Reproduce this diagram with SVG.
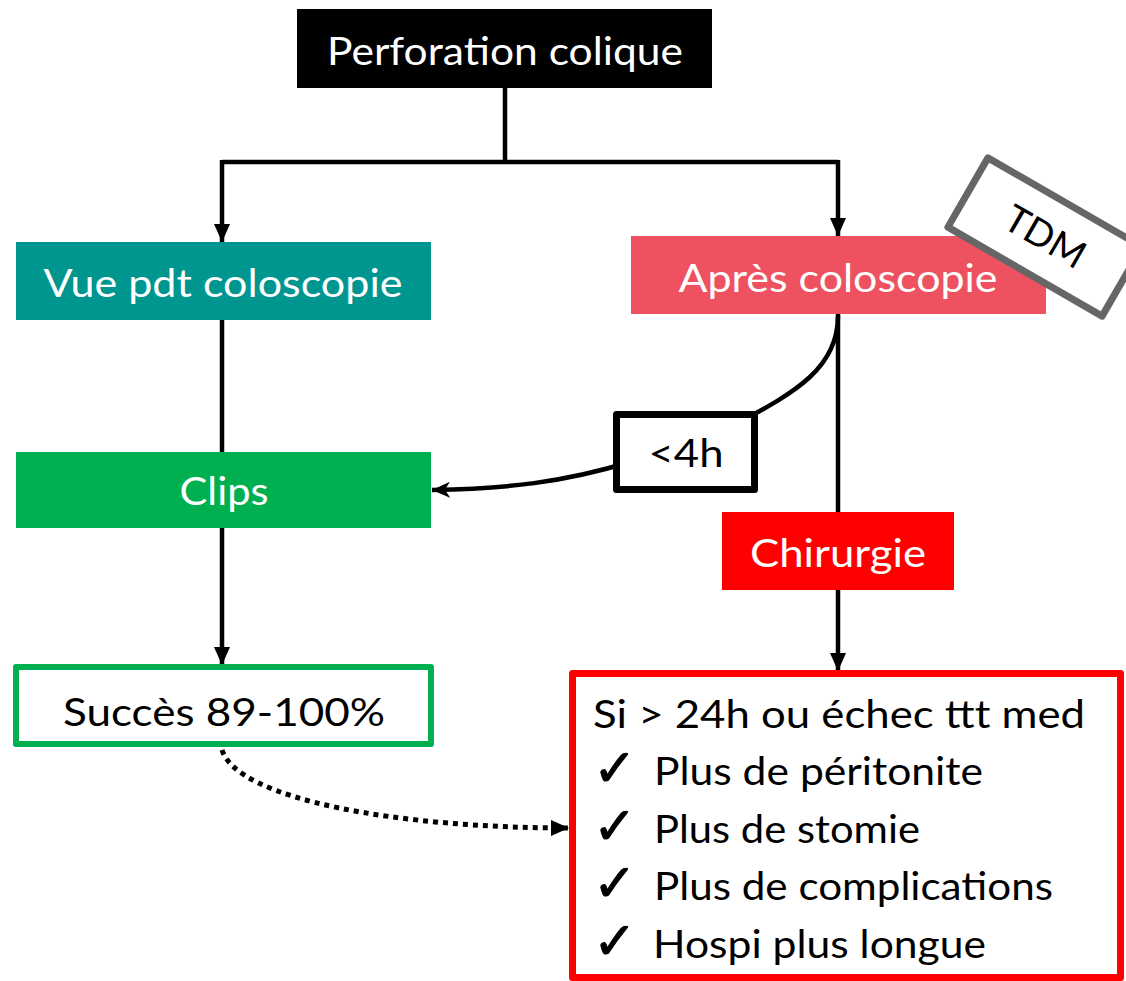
<svg xmlns="http://www.w3.org/2000/svg" width="1126" height="981" viewBox="0 0 1126 981">
<style>
text{font-family:"Lato","Open Sans","Liberation Sans",sans-serif;font-size:38px}
.w{fill:#fff}
.k{fill:#000}
.ck{font-family:"DejaVu Sans",sans-serif;font-size:52px;stroke:#000;stroke-width:1}
.ln{fill:none;stroke:#000;stroke-width:4.5}
</style>
<defs>
<marker id="ah" markerWidth="18" markerHeight="16" refX="18" refY="8" orient="auto" markerUnits="userSpaceOnUse">
<path d="M0,0 L18,8 L0,16 Z" fill="#000"/>
</marker>
<marker id="ah2" markerWidth="18" markerHeight="16" refX="18" refY="8" orient="auto" markerUnits="userSpaceOnUse">
<path d="M0,0 L18,8 L0,16 L5,8 Z" fill="#000"/>
</marker>
</defs>
<rect width="1126" height="981" fill="#fff"/>
<g id="connectors">
<path class="ln" d="M505,88 V162 M222,162 H838"/>
<path class="ln" d="M222,160 V242" marker-end="url(#ah)"/>
<path class="ln" d="M838,160 V236" marker-end="url(#ah)"/>
<path class="ln" d="M222,320 V452"/>
<path class="ln" d="M222,528 V665" marker-end="url(#ah)"/>
<path class="ln" d="M838,314 V512 M838,590 V671" marker-end="url(#ah)"/>
<path class="ln" d="M838,316 C838,368 795,392 740,422 L630,462 C565,482 505,489 432,490" marker-end="url(#ah2)"/>
<path fill="none" stroke="#000" stroke-width="5" stroke-dasharray="5 5" d="M222,750 C238,800 400,828 569,828" marker-end="url(#ah)"/>
</g>
<g id="n-perforation">
<rect x="297" y="9" width="415" height="79" fill="#000"/>
<text class="w" x="505" y="65" text-anchor="middle" textLength="356" lengthAdjust="spacingAndGlyphs">Perforation colique</text>
</g>
<g id="n-vue">
<rect x="16" y="242" width="415" height="78" fill="#009690"/>
<text class="w" x="223" y="297" text-anchor="middle" textLength="359" lengthAdjust="spacingAndGlyphs">Vue pdt coloscopie</text>
</g>
<g id="n-apres">
<rect x="631" y="236" width="415" height="78" fill="#EE5261"/>
<text class="w" x="838" y="292" text-anchor="middle" textLength="319" lengthAdjust="spacingAndGlyphs">Après coloscopie</text>
</g>
<g id="n-tdm" transform="translate(1045,237) rotate(30)">
<rect x="-89" y="-40" width="178" height="80" fill="#fff" stroke="#666" stroke-width="7" stroke-linejoin="round"/>
<text class="k" x="0" y="13" text-anchor="middle" font-size="36">TDM</text>
</g>
<g id="n-4h">
<rect x="616.5" y="414.5" width="138" height="75" fill="#fff" stroke="#000" stroke-width="7" stroke-linejoin="round"/>
<text class="k" x="686" y="467" text-anchor="middle" textLength="75" lengthAdjust="spacingAndGlyphs">&lt;4h</text>
</g>
<g id="n-clips">
<rect x="16" y="452" width="415" height="76" fill="#00B050"/>
<text class="w" x="224" y="505" text-anchor="middle" textLength="89" lengthAdjust="spacingAndGlyphs">Clips</text>
</g>
<g id="n-chirurgie">
<rect x="722" y="512" width="232" height="78" fill="#FF0000"/>
<text class="w" x="838" y="567" text-anchor="middle" textLength="176" lengthAdjust="spacingAndGlyphs">Chirurgie</text>
</g>
<g id="n-succes">
<rect x="16" y="667" width="415" height="77" fill="#fff" stroke="#00B050" stroke-width="6" stroke-linejoin="round"/>
<text class="k" x="224" y="726" text-anchor="middle" textLength="322" lengthAdjust="spacingAndGlyphs">Succès 89-100%</text>
</g>
<g id="n-chir-details">
<rect x="572.5" y="673.5" width="548" height="304" fill="#fff" stroke="#FF0000" stroke-width="7" stroke-linejoin="round"/>
<text class="k" x="593" y="728" textLength="492" lengthAdjust="spacingAndGlyphs">Si &gt; 24h ou échec ttt med</text>
<text class="k ck" x="593" y="786">✓</text>
<text class="k" x="654" y="785" textLength="329" lengthAdjust="spacingAndGlyphs">Plus de péritonite</text>
<text class="k ck" x="593" y="844">✓</text>
<text class="k" x="654" y="843" textLength="266" lengthAdjust="spacingAndGlyphs">Plus de stomie</text>
<text class="k ck" x="593" y="901">✓</text>
<text class="k" x="654" y="900" textLength="399" lengthAdjust="spacingAndGlyphs">Plus de complications</text>
<text class="k ck" x="593" y="959">✓</text>
<text class="k" x="653" y="958" textLength="333" lengthAdjust="spacingAndGlyphs">Hospi plus longue</text>
</g>
</svg>
